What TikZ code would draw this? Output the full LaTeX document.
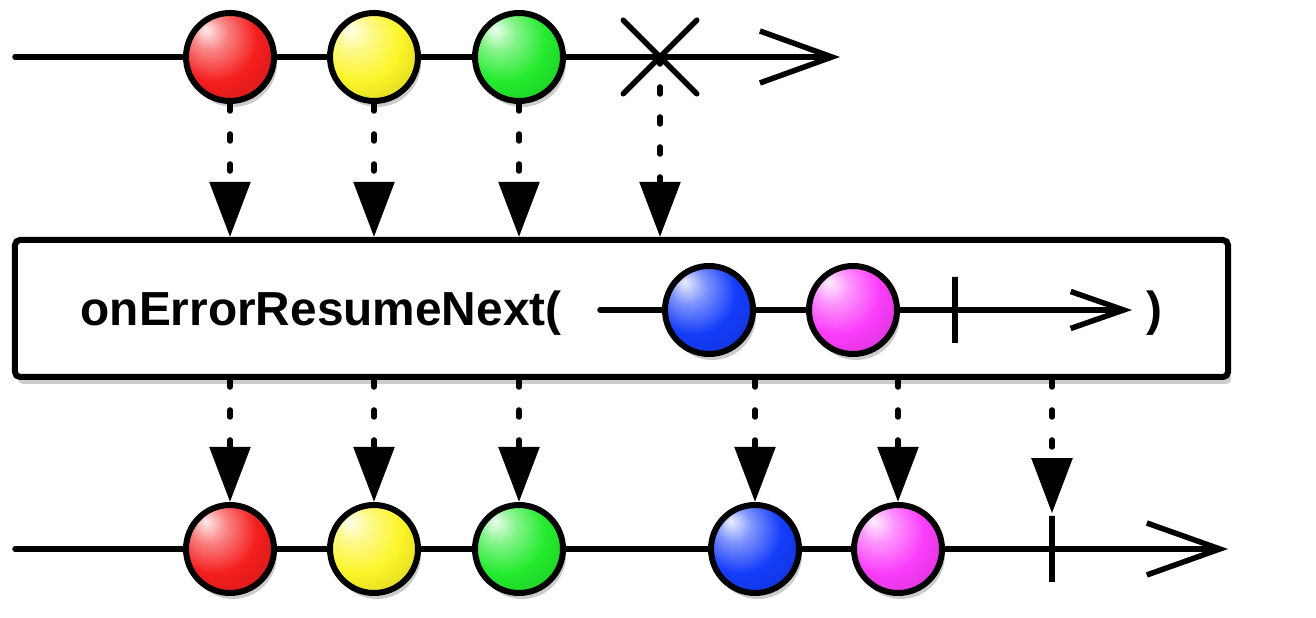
\documentclass[tikz,border=0pt]{standalone}
\usepackage{fontspec}
\setmainfont{Liberation Sans}
\usepackage{tikz}
\usetikzlibrary{arrows.meta,positioning,calc}
\usetikzlibrary{shapes.misc,shadows}
\definecolor{marblered}{RGB}{245,30,30}
\definecolor{marbleyellow}{RGB}{252,245,40}
\definecolor{marblegreen}{RGB}{35,235,45}
\definecolor{marbleblue}{RGB}{20,60,250}
\definecolor{marblepink}{RGB}{250,60,250}
\makeatletter
\pgfdeclareradialshading[tikz@ball]{marble}{\pgfqpoint{-14bp}{16bp}}{%
  color(0bp)=(tikz@ball!8!white);
  color(10bp)=(tikz@ball!55!white);
  color(24bp)=(tikz@ball);
  color(40bp)=(tikz@ball!85!black);
  color(64bp)=(tikz@ball!50!black)}
\makeatother
\tikzset{
  flow/.style={line width=0.055cm, line cap=round},
  marble/.style={circle, draw, line width=0.06cm, minimum size=0.88cm, inner sep=0pt,
    ball color=#1, shading=marble,
    drop shadow={shadow xshift=0.03cm, shadow yshift=-0.06cm, opacity=0.2, fill=black}},
  tickmark/.style={rectangle, draw, line width=0.055cm, minimum height=0.66cm,
    minimum width=0pt, inner sep=0pt},
  drop/.style={line width=0.055cm, line cap=round, dash pattern=on 0.07cm off 0.23cm,
    -{Triangle[length=0.55cm, width=0.40cm]}},
  opbox/.style={rectangle, draw, fill=white, line width=0.06cm, rounded corners=0.05cm,
    minimum width=12.13cm, minimum height=1.37cm, inner sep=0pt,
    drop shadow={shadow xshift=0.03cm, shadow yshift=-0.07cm, opacity=0.2, fill=black}},
  optext/.style={font=\bfseries\fontsize{13.6}{16}\selectfont, inner sep=0pt}
}
\begin{document}
\begin{tikzpicture}
  \useasboundingbox (0,0) rectangle (13.16,6.18);
  % source stream
  \coordinate (s0) at (0.15,5.61);
  \coordinate (s9) at (8.40,5.61);
  \draw[flow,-{Straight Barb[length=0.72cm, width=0.52cm]}] (s0) -- (s9);
  \node[marble=marblered] (a1) at (2.30,5.61) {};
  \node[marble=marbleyellow] (a2) at (3.74,5.61) {};
  \node[marble=marblegreen] (a3) at (5.19,5.61) {};
  \node[cross out, draw, line width=0.055cm, line cap=round, minimum size=0.68cm,
    inner sep=0pt] (a4) at (6.60,5.61) {};
  % operator box
  \node[opbox] (op) at (6.215,3.095) {};
  \node[optext, anchor=base west] (name) at (0.80,2.92) {onErrorResumeNext(};
  \node[optext, anchor=base] (close) at (11.54,2.92) {)};
  % resume stream inside the box
  \coordinate (r0) at (6.00,3.08);
  \coordinate (r9) at (11.32,3.08);
  \draw[flow,-{Straight Barb[length=0.53cm, width=0.37cm]}] (r0) -- (r9);
  \node[marble=marbleblue] (c1) at (7.09,3.08) {};
  \node[marble=marblepink] (c2) at (8.53,3.08) {};
  \node[tickmark] (c3) at (9.55,3.08) {};
  % result stream
  \coordinate (t0) at (0.15,0.69);
  \coordinate (t9) at (12.28,0.69);
  \draw[flow,-{Straight Barb[length=0.73cm, width=0.52cm]}] (t0) -- (t9);
  \node[marble=marblered] (b1) at (2.30,0.69) {};
  \node[marble=marbleyellow] (b2) at (3.74,0.69) {};
  \node[marble=marblegreen] (b3) at (5.19,0.69) {};
  \node[marble=marbleblue] (b4) at (7.55,0.69) {};
  \node[marble=marblepink] (b5) at (8.98,0.69) {};
  \node[tickmark] (b6) at (10.52,0.69) {};
  % into the operator
  \draw[drop] (a1.south) -- (a1.south |- op.north);
  \draw[drop] (a2.south) -- (a2.south |- op.north);
  \draw[drop] (a3.south) -- (a3.south |- op.north);
  \draw[drop] (a4.center) -- (a4.center |- op.north);
  % out of the operator
  \draw[drop] (b1 |- op.south) -- (b1.north);
  \draw[drop] (b2 |- op.south) -- (b2.north);
  \draw[drop] (b3 |- op.south) -- (b3.north);
  \draw[drop] (b4 |- op.south) -- (b4.north);
  \draw[drop] (b5 |- op.south) -- (b5.north);
  \draw[drop] (b6 |- op.south) -- (b6.north);
\end{tikzpicture}
\end{document}
